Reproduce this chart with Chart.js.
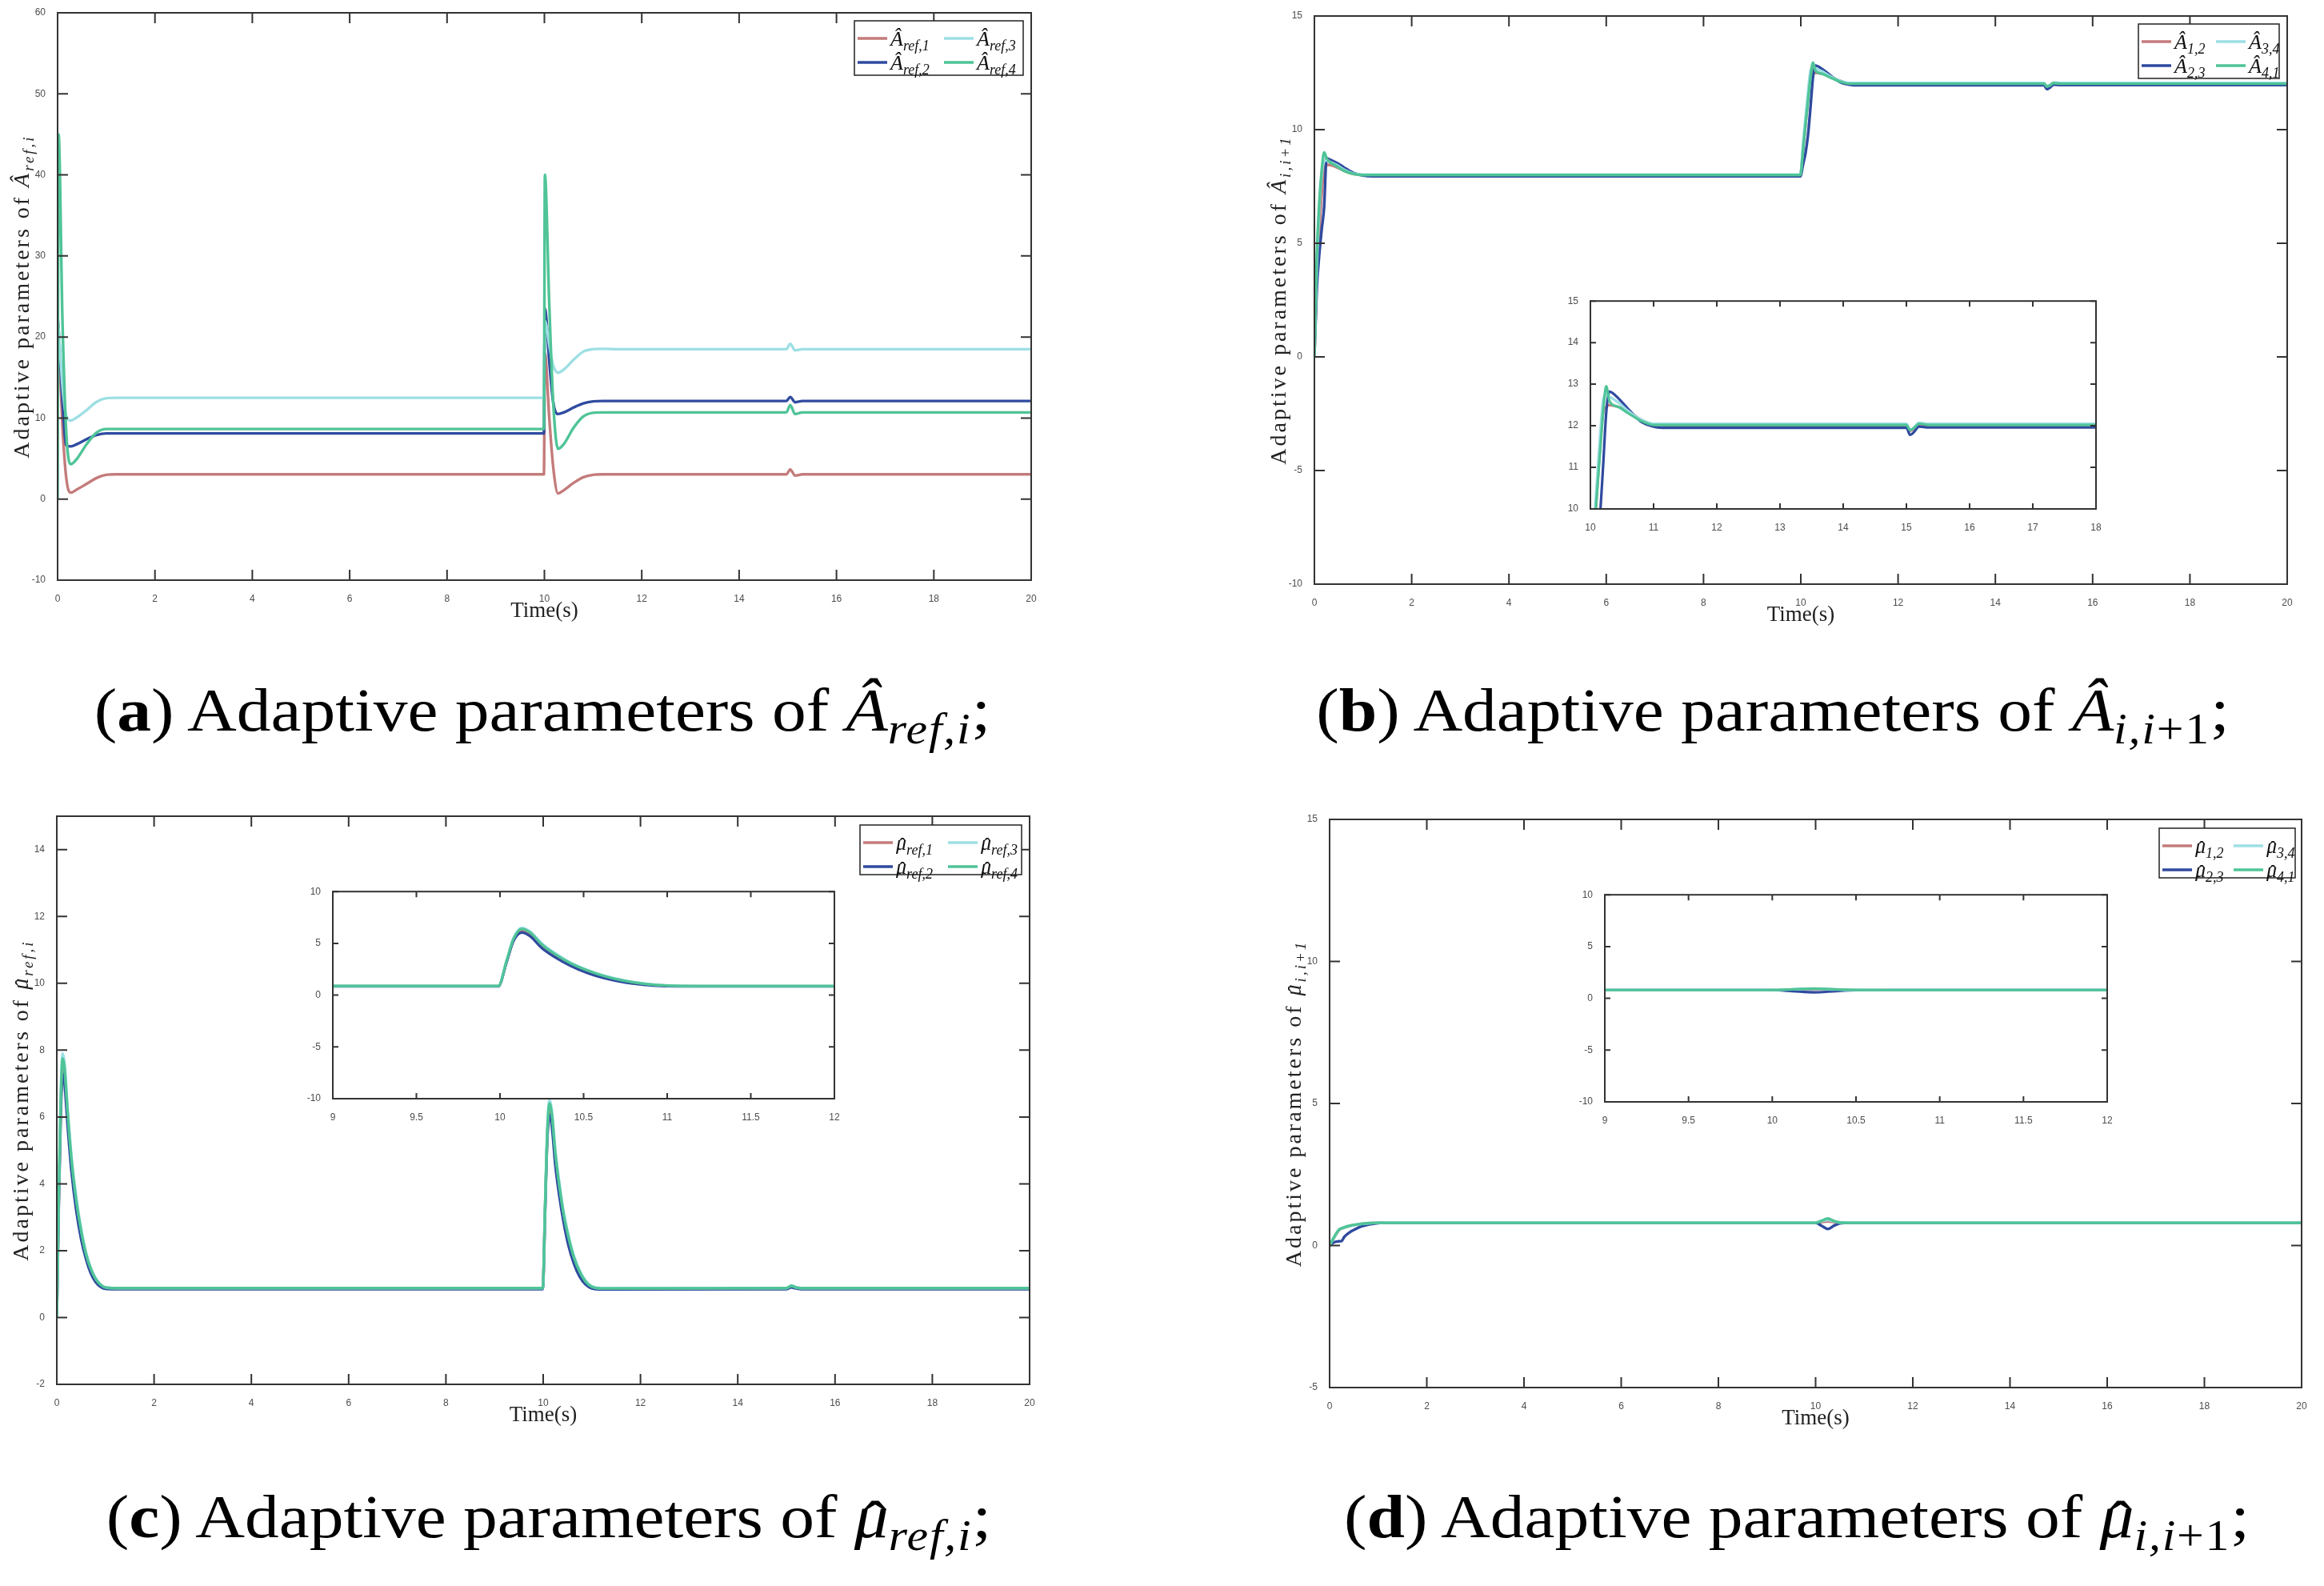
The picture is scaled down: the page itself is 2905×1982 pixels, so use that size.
<!DOCTYPE html>
<html>
<head>
<meta charset="utf-8">
<script src="https://cdn.jsdelivr.net/npm/chart.js@4.4.1/dist/chart.umd.min.js"></script>
<style>
body { margin: 0; background: #fff; }
#page { position: relative; width: 2905px; height: 1982px; overflow: hidden; background: #fff; }
canvas { position: absolute; }
.cap { position: absolute; width: 1300px; text-align: center; font-family: 'Liberation Serif', serif; font-size: 77px; line-height: 1; color: #000; white-space: nowrap; transform: scaleX(1.11); transform-origin: 50% 50%; }
.sb { font-size: 0.7em; vertical-align: -0.3em; font-style: italic; letter-spacing: 0.03em; }
.sb span { font-style: normal; }
.mh { position: relative; display: inline-block; font-style: italic; }
.mh::after { content: '\02C6'; position: absolute; left: 0.14em; top: 0.1em; font-style: normal; }
</style>
</head>
<body>
<div id="page">
  <canvas id="chA"></canvas>
  <canvas id="chB"></canvas>
  <canvas id="chBin"></canvas>
  <canvas id="chC"></canvas>
  <canvas id="chCin"></canvas>
  <canvas id="chD"></canvas>
  <canvas id="chDin"></canvas>
  <div class="cap" style="left:28px;top:849px">(<b>a</b>) Adaptive parameters of <i>Â</i><span class="sb">ref,i</span>;</div>
  <div class="cap" style="left:1566px;top:849px">(<b>b</b>) Adaptive parameters of <i>Â</i><span class="sb">i,i<span>+1</span></span>;</div>
  <div class="cap" style="left:36px;top:1857px">(<b>c</b>) Adaptive parameters of <span class="mh">μ</span><span class="sb">ref,i</span>;</div>
  <div class="cap" style="left:1596px;top:1857px">(<b>d</b>) Adaptive parameters of <span class="mh">μ</span><span class="sb">i,i<span>+1</span></span>;</div>
</div>
<script>
// time grids and series
const tA = [0, 0.02, 0.1, 0.18, 0.27, 0.4, 0.6, 0.8, 1.0, 1.2, 1.5, 9.99, 10.01, 10.1, 10.18, 10.28, 10.4, 10.6, 10.8, 11.0, 11.2, 11.5, 14.97, 15.05, 15.15, 15.3, 20];
const aRef1 = [22, 20, 9, 2.5, 0.8, 1.2, 1.9, 2.6, 3.0, 3.05, 3.05, 3.05, 18, 10, 4, 0.7, 1.1, 2.0, 2.7, 3.0, 3.05, 3.05, 3.05, 3.65, 2.9, 3.05, 3.05];
const aRef2 = [22.5, 21, 12, 6.6, 6.5, 6.8, 7.4, 7.9, 8.1, 8.1, 8.1, 8.1, 23.5, 17, 12, 10.5, 10.7, 11.3, 11.8, 12.05, 12.1, 12.1, 12.1, 12.6, 11.95, 12.1, 12.1];
const aRef3 = [22, 21, 14, 10.2, 9.7, 10.1, 11.0, 12.0, 12.45, 12.5, 12.5, 12.5, 22, 19, 16.5, 15.6, 16.0, 17.2, 18.2, 18.5, 18.55, 18.5, 18.5, 19.15, 18.35, 18.5, 18.5];
const aRef4 = [0, 45, 22, 8, 4.3, 5.0, 6.8, 8.2, 8.65, 8.65, 8.65, 8.65, 40, 24, 12, 6.2, 6.8, 8.8, 10.2, 10.65, 10.7, 10.7, 10.7, 11.6, 10.5, 10.7, 10.7];

const tB = [0, 0.05, 0.1, 0.15, 0.2, 0.25, 0.3, 0.45, 0.6, 0.8, 1.0, 1.2, 9.99, 10.05, 10.1, 10.15, 10.2, 10.25, 10.3, 10.45, 10.6, 10.8, 11.0, 11.2, 15.0, 15.06, 15.12, 15.2, 15.35, 20];
const a12 = [0, 3.5, 5.5, 7.2, 8.3, 8.45, 8.45, 8.35, 8.2, 8.05, 8.0, 8.0, 8.0, 9.2, 10.3, 11.4, 12.3, 12.45, 12.5, 12.45, 12.35, 12.15, 12.02, 12.0, 12.0, 11.88, 11.92, 12.02, 12.0, 12.0];
const a23 = [0, 3.0, 4.5, 5.6, 6.6, 8.75, 8.7, 8.55, 8.35, 8.1, 7.98, 7.95, 7.95, 8.5, 9.0, 9.8, 11.0, 12.3, 12.82, 12.65, 12.4, 12.1, 11.98, 11.95, 11.95, 11.78, 11.85, 11.98, 11.96, 11.96];
const a34 = [0, 4, 6.5, 8.0, 8.6, 8.65, 8.6, 8.45, 8.25, 8.07, 8.02, 8.02, 8.02, 9.5, 10.6, 11.7, 12.6, 12.75, 12.7, 12.55, 12.35, 12.15, 12.05, 12.05, 12.05, 11.9, 11.95, 12.07, 12.05, 12.05];
const a41 = [0, 4.5, 6.8, 8.2, 9.0, 8.75, 8.6, 8.4, 8.2, 8.05, 8.0, 8.0, 8.0, 9.2, 10.3, 11.3, 12.3, 12.95, 12.6, 12.45, 12.3, 12.12, 12.02, 12.02, 12.02, 11.9, 11.95, 12.05, 12.02, 12.02];

const tC = [0, 0.04, 0.08, 0.12, 0.16, 0.22, 0.3, 0.4, 0.5, 0.6, 0.7, 0.8, 0.9, 1.0, 1.2, 1.5, 9.99, 10.04, 10.08, 10.13, 10.18, 10.25, 10.33, 10.42, 10.52, 10.63, 10.75, 10.87, 11.0, 11.2, 15.0, 15.1, 15.2, 15.3, 20];
const muRef1 = [0, 3.5, 6.2, 7.5, 7.2, 6.0, 4.6, 3.4, 2.5, 1.85, 1.4, 1.12, 0.96, 0.89, 0.87, 0.87, 0.87, 3.3, 5.3, 6.2, 5.85, 4.75, 3.85, 3.0, 2.3, 1.75, 1.32, 1.05, 0.9, 0.86, 0.87, 0.93, 0.89, 0.87, 0.87];
const muRef2 = [0, 3.3, 6.0, 7.3, 7.0, 5.8, 4.4, 3.2, 2.35, 1.75, 1.32, 1.06, 0.92, 0.86, 0.85, 0.85, 0.85, 3.2, 5.2, 6.05, 5.7, 4.55, 3.65, 2.85, 2.15, 1.62, 1.22, 0.99, 0.87, 0.84, 0.85, 0.9, 0.87, 0.85, 0.85];
const muRef3 = [0, 3.7, 6.6, 7.9, 7.6, 6.3, 4.85, 3.6, 2.65, 1.95, 1.48, 1.17, 0.99, 0.9, 0.88, 0.88, 0.88, 3.4, 5.5, 6.5, 6.15, 5.0, 4.05, 3.15, 2.45, 1.85, 1.4, 1.1, 0.93, 0.88, 0.88, 0.95, 0.9, 0.88, 0.88];
const muRef4 = [0, 3.6, 6.4, 7.75, 7.45, 6.2, 4.75, 3.5, 2.6, 1.9, 1.45, 1.15, 0.98, 0.9, 0.88, 0.88, 0.88, 3.35, 5.4, 6.4, 6.05, 4.9, 3.95, 3.1, 2.4, 1.8, 1.37, 1.08, 0.92, 0.87, 0.88, 0.95, 0.9, 0.88, 0.88];

const tD = [0, 0.1, 0.2, 0.25, 0.3, 0.4, 0.5, 0.65, 0.8, 1.0, 1.2, 1.5, 10.0, 10.12, 10.25, 10.38, 10.5, 10.7, 20];
const mu12 = [0, 0.3, 0.55, 0.6, 0.63, 0.68, 0.72, 0.76, 0.78, 0.8, 0.8, 0.8, 0.8, 0.82, 0.85, 0.82, 0.8, 0.8, 0.8];
const mu23 = [0, 0.12, 0.15, 0.16, 0.3, 0.45, 0.55, 0.67, 0.74, 0.79, 0.8, 0.8, 0.8, 0.7, 0.58, 0.7, 0.78, 0.8, 0.8];
const mu34 = [0, 0.3, 0.56, 0.6, 0.63, 0.68, 0.72, 0.76, 0.78, 0.8, 0.81, 0.81, 0.81, 0.86, 0.9, 0.85, 0.81, 0.81, 0.81];
const mu41 = [0, 0.32, 0.57, 0.61, 0.64, 0.69, 0.73, 0.76, 0.79, 0.8, 0.8, 0.8, 0.8, 0.87, 0.95, 0.86, 0.81, 0.8, 0.8];

const namesRef = ['ref,1', 'ref,2', 'ref,3', 'ref,4'];
const namesPair = ['1,2', '2,3', '3,4', '4,1'];
const colors = ['#c47b7b', '#2f4a9f', '#9ddfe4', '#4fc497'];

const F = "'Liberation Serif', serif";
const HAT_A = 'Â';
const HAT_MU = 'μ';   // hat drawn by hand over it

function richText(ctx, parts, x, y, align) {
    let w = 0;
    parts.forEach(p => { ctx.font = p[1]; w += ctx.measureText(p[0]).width; });
    let cx = align === 'center' ? x - w / 2 : x;
    parts.forEach(p => {
        ctx.font = p[1];
        const pw = ctx.measureText(p[0]).width;
        ctx.fillText(p[0], cx, y + (p[2] || 0));
        if (p[0] === 'μ') {
            const size = parseFloat(p[1].match(/(\d+)px/)[1]);
            ctx.font = size + 'px ' + F;
            const hw = ctx.measureText('\u02C6').width;
            ctx.fillText('\u02C6', cx + pw * 0.62 - hw / 2, y + size * 0.12);
        }
        cx += pw;
    });
}

// matlab-like box, inward ticks, legend and axis titles
const matlabFrame = {
    id: 'matlabFrame',
    beforeDraw(chart, args, o) {
        if (!o.inset) return;
        const a = chart.chartArea;
        chart.ctx.save();
        chart.ctx.fillStyle = '#fff';
        chart.ctx.fillRect(a.left, a.top, a.right - a.left, a.bottom - a.top);
        chart.ctx.restore();
    },
    afterDatasetsDraw(chart, args, o) {
        const ctx = chart.ctx, a = chart.chartArea;
        const x = chart.scales.x, y = chart.scales.y;
        ctx.save();
        ctx.strokeStyle = '#333';
        ctx.lineWidth = 2;
        ctx.beginPath();
        x.ticks.forEach(tk => {
            const p = x.getPixelForValue(tk.value);
            ctx.moveTo(p, a.bottom); ctx.lineTo(p, a.bottom - o.tick);
            ctx.moveTo(p, a.top); ctx.lineTo(p, a.top + o.tick);
        });
        y.ticks.forEach(tk => {
            const p = y.getPixelForValue(tk.value);
            ctx.moveTo(a.left, p); ctx.lineTo(a.left + o.tick, p);
            ctx.moveTo(a.right, p); ctx.lineTo(a.right - o.tick, p);
        });
        ctx.stroke();
        ctx.strokeRect(a.left, a.top, a.right - a.left, a.bottom - a.top);

        if (o.legend) {
            const L = o.legend;
            ctx.fillStyle = '#fff';
            ctx.fillRect(L.x, L.y, L.w, L.h);
            ctx.strokeStyle = '#222';
            ctx.lineWidth = 1.5;
            ctx.strokeRect(L.x, L.y, L.w, L.h);
            chart.data.datasets.forEach((ds, k) => {
                const col = k < 2 ? 0 : 1, row = k % 2;
                const lx = L.x + 4 + col * L.col2, ly = L.y + 22 + row * 30;
                ctx.strokeStyle = ds.borderColor;
                ctx.lineWidth = 3.5;
                ctx.beginPath(); ctx.moveTo(lx, ly); ctx.lineTo(lx + 37, ly); ctx.stroke();
                ctx.fillStyle = '#111';
                ctx.textBaseline = 'alphabetic';
                richText(ctx, [[L.sym, 'italic 26px ' + F, 0], [ds.label, 'italic 18px ' + F, 6]], lx + 41, ly + 9, 'left');
            });
        }
        if (o.yTitle) {
            ctx.save();
            ctx.translate(a.left - 36, (a.top + a.bottom) / 2);
            ctx.rotate(-Math.PI / 2);
            ctx.fillStyle = '#222';
            ctx.textBaseline = 'alphabetic';
            ctx.letterSpacing = '3px';
            richText(ctx, o.yTitle, 0, 0, 'center');
            ctx.restore();
        }
        if (o.xTitle) {
            ctx.fillStyle = '#222';
            ctx.textBaseline = 'alphabetic';
            richText(ctx, [[o.xTitle, '27px ' + F, 0]], (a.left + a.right) / 2, a.bottom + 46, 'center');
        }
        ctx.restore();
    }
};

function makeChart(id, box, plot, t, series, names, opts) {
    const cv = document.getElementById(id);
    cv.width = box[2];
    cv.height = box[3];
    cv.style.left = box[0] + 'px';
    cv.style.top = box[1] + 'px';
    // first series on the bottom, last (green) on top
    const datasets = series.map((s, k) => ({
        label: names[k],
        data: t.map((v, i) => ({ x: v, y: s[i] })),
        borderColor: colors[k],
        borderWidth: opts.lw || 3.4,
        pointRadius: 0,
        fill: false,
        order: series.length - k,
        cubicInterpolationMode: 'monotone'
    }));
    let legend = null;
    if (opts.legend) {
        const g = opts.legend;
        legend = { x: g[0] - box[0], y: g[1] - box[1], w: g[2], h: g[3], col2: g[4], sym: opts.sym };
    }
    const tickFont = { family: "'Liberation Sans Narrow', 'Liberation Sans', sans-serif", size: 12 };
    const fmt = v => String(Math.round(v * 100) / 100);
    new Chart(cv, {
        type: 'line',
        data: { datasets },
        options: {
            responsive: false,
            animation: false,
            devicePixelRatio: 1,
            events: [],
            layout: { padding: { left: 0, top: plot[1] - box[1], right: box[0] + box[2] - plot[2], bottom: 0 } },
            plugins: {
                legend: { display: false },
                tooltip: { enabled: false },
                matlabFrame: {
                    inset: !!opts.inset,
                    tick: opts.inset ? 7 : 13,
                    legend: legend,
                    yTitle: opts.yTitle || null,
                    xTitle: opts.xTitle || null
                }
            },
            scales: {
                x: {
                    type: 'linear', min: opts.x[0], max: opts.x[1],
                    grid: { display: false }, border: { display: false },
                    ticks: { stepSize: opts.x[2], color: '#4d4d4d', font: tickFont, padding: 8, maxRotation: 0, autoSkip: false, includeBounds: false, callback: fmt },
                    afterFit(s) { s.height = box[1] + box[3] - plot[3]; }
                },
                y: {
                    type: 'linear', min: opts.y[0], max: opts.y[1],
                    grid: { display: false }, border: { display: false },
                    ticks: { stepSize: opts.y[2], color: '#4d4d4d', font: tickFont, padding: 7, autoSkip: false, includeBounds: false, callback: fmt },
                    afterFit(s) { s.width = plot[0] - box[0]; }
                }
            }
        },
        plugins: [matlabFrame]
    });
}

function insetBox(p) {
    return [p[0] - 45, p[1] - 12, p[2] - p[0] + 60, p[3] - p[1] + 42];
}

const yTitle = (sym, sub) => [
    ['Adaptive parameters of ', '28px ' + F, 0],
    [sym, 'italic 28px ' + F, 0],
    [sub, 'italic 19px ' + F, 6]
];

// (a)
makeChart('chA', [0, 0, 1400, 800], [72, 16, 1289, 725], tA, [aRef1, aRef2, aRef3, aRef4], namesRef, {
    x: [0, 20, 2], y: [-10, 60, 10], sym: HAT_A,
    legend: [1068, 26, 211, 68, 108],
    yTitle: yTitle(HAT_A, 'ref,i'), xTitle: 'Time(s)'
});
// (b)
makeChart('chB', [1500, 0, 1405, 800], [1643, 20, 2859, 730], tB, [a12, a23, a34, a41], namesPair, {
    x: [0, 20, 2], y: [-10, 15, 5], sym: HAT_A,
    legend: [2673, 30, 176, 68, 93],
    yTitle: yTitle(HAT_A, 'i,i+1'), xTitle: 'Time(s)'
});
const pBin = [1988, 374, 2620, 636];
makeChart('chBin', insetBox(pBin), pBin, tB, [a12, a23, a34, a41], namesPair, {
    x: [10, 18, 1], y: [10, 15, 1], inset: true, lw: 3.2
});
// (c)
makeChart('chC', [0, 1000, 1400, 800], [71, 1020, 1287, 1730], tC, [muRef1, muRef2, muRef3, muRef4], namesRef, {
    x: [0, 20, 2], y: [-2, 15, 2], sym: HAT_MU,
    legend: [1075, 1031, 202, 62, 106],
    yTitle: yTitle(HAT_MU, 'ref,i'), xTitle: 'Time(s)'
});
const pCin = [416, 1112, 1043, 1373];
makeChart('chCin', insetBox(pCin), pCin, tC, [muRef1, muRef2, muRef3, muRef4], namesRef, {
    x: [9, 12, 0.5], y: [-10, 10, 5], inset: true, lw: 3.2
});
// (d)
makeChart('chD', [1550, 1000, 1355, 800], [1662, 1024, 2877, 1734], tD, [mu12, mu23, mu34, mu41], namesPair, {
    x: [0, 20, 2], y: [-5, 15, 5], sym: HAT_MU,
    legend: [2699, 1035, 170, 62, 89],
    yTitle: yTitle(HAT_MU, 'i,i+1'), xTitle: 'Time(s)'
});
const pDin = [2006, 1116, 2634, 1377];
makeChart('chDin', insetBox(pDin), pDin, tD, [mu12, mu23, mu34, mu41], namesPair, {
    x: [9, 12, 0.5], y: [-10, 10, 5], inset: true, lw: 3.2
});
</script>
</body>
</html>
